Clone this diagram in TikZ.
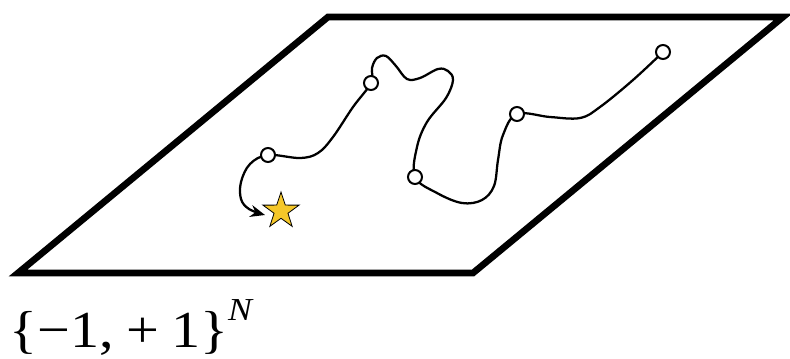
\documentclass[tikz,border=0pt]{standalone}
\usepackage{fontspec}
\usepackage{tikz}
\usetikzlibrary{arrows.meta, shapes.geometric}
\newfontfamily\labelfont{Liberation Serif}
\definecolor{StarYellow}{rgb}{0.96, 0.78, 0.16}

\begin{document}
\begin{tikzpicture}[>=Stealth, x=0.75pt, y=0.75pt,
    site/.style={circle, draw=black, fill=white, line width=1.5pt, inner sep=0pt, minimum size=10.5pt}]
        \useasboundingbox (0,0) rectangle (790,-358);

        % Configuration space
        \draw [line width=5pt, miter limit=20] (18,-273) -- (328,-17) -- (783,-17) -- (473,-273) -- cycle;

        % Visited configurations
        \coordinate (s1) at (268,-155);
        \coordinate (s2) at (371,-83);
        \coordinate (s3) at (415,-177);
        \coordinate (s4) at (517,-114);
        \coordinate (s5) at (663,-52);

        % Walk through the space
        \draw [line width=1.7pt, ->, >={Stealth[length=11pt, width=9pt]}] plot [smooth, tension=0.6] coordinates {
            (s5) (633,-80) (600,-107) (580,-118) (550,-117) (s4)
            (503,-135) (498,-160) (494,-186) (482,-200) (462,-203) (437,-193) (s3)
            (417,-147) (427,-122) (446,-98) (453,-80) (448,-71) (438,-69) (420,-78) (407,-79) (396,-66) (386,-56) (377,-58) (372,-68) (s2)
            (353,-107) (333,-137) (318,-153) (300,-158) (s1)
            (250,-164) (241,-182) (241,-199) (249,-209) (265,-215)};

        % Configuration sites
        \foreach \s in {s1, s2, s3, s4, s5}
            \node [site] at (\s) {};

        % Target
        \node [star, star points=5, star point ratio=2.6, draw=black, line width=0.6pt, fill=StarYellow,
               minimum size=28.5pt, inner sep=0pt] (target) at (281,-211) {};

        % Label
        \node [anchor=base west, inner sep=0pt, xscale=1.12] (label) at (9,-347)
            {\labelfont\fontsize{39}{44}\selectfont \{−1,\kern0.22em+\kern0.2em1\}\raisebox{20pt}{\fontsize{24}{26}\selectfont\itshape N}};
\end{tikzpicture}
\end{document}
